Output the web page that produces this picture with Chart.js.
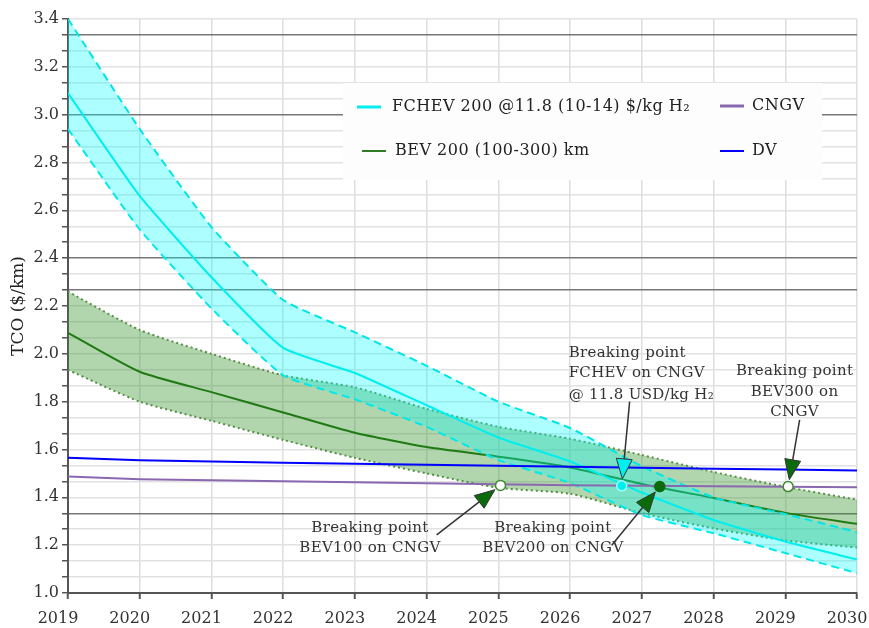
<!DOCTYPE html>
<html>
<head>
<meta charset="utf-8">
<script src="https://cdn.jsdelivr.net/npm/chart.js@4"></script>
<style>
  body { margin: 0; background: #fff; }
  #wrap { width: 869px; height: 628px; position: relative; }
</style>
</head>
<body>
<div id="wrap"><canvas id="tcoChart"></canvas></div>
<script>
// ---- data ----
const years = [2019, 2020, 2021, 2022, 2023, 2024, 2025, 2026, 2027, 2028, 2029, 2030];
const xTickLabels = ['2019', '2020', '2021', '2022', '2023', '2024', '2025', '2026', '2027', '2028', '2029', '2030'];
const yMajorTicks = [1.0, 1.2, 1.4, 1.6, 1.8, 2.0, 2.2, 2.4, 2.6, 2.8, 3.0, 3.2, 3.4];
const yTickLabels = ['1.0', '1.2', '1.4', '1.6', '1.8', '2.0', '2.2', '2.4', '2.6', '2.8', '3.0', '3.2', '3.4'];

const fchevMid  = [3.09, 2.66, 2.32, 2.025, 1.92, 1.785, 1.65, 1.55, 1.42, 1.305, 1.215, 1.14];
const fchevHigh = [3.40, 2.94, 2.53, 2.225, 2.09, 1.95, 1.80, 1.69, 1.53, 1.40, 1.33, 1.255];
const fchevLow  = [2.94, 2.52, 2.19, 1.91, 1.81, 1.695, 1.556, 1.46, 1.326, 1.25, 1.167, 1.083];

const bevMid  = [2.088, 1.925, 1.84, 1.755, 1.67, 1.61, 1.57, 1.525, 1.456, 1.397, 1.335, 1.289];
const bevHigh = [2.26, 2.10, 2.00, 1.91, 1.86, 1.77, 1.695, 1.645, 1.577, 1.506, 1.444, 1.39];
const bevLow  = [1.933, 1.80, 1.72, 1.64, 1.565, 1.50, 1.44, 1.415, 1.334, 1.27, 1.22, 1.19];

const dv   = [1.565, 1.555, 1.55, 1.545, 1.54, 1.536, 1.532, 1.528, 1.524, 1.52, 1.516, 1.512];
const cngv = [1.487, 1.476, 1.471, 1.467, 1.463, 1.459, 1.455, 1.451, 1.448, 1.446, 1.444, 1.442];

// breaking points: BEV100, FCHEV, BEV200, BEV300 (all on CNGV)
const breakX = [2025.03, 2026.72, 2027.25, 2029.04];
const breakY = [1.45, 1.448, 1.445, 1.445];

// grid lines drawn darker in the original
const darkGrid = [1.3333, 3.0, 2.4, 2.2667, 3.3333];

// annotation text + arrow tails, in data units
const notes = [
  { lines: ['Breaking point', 'BEV100 on CNGV'], x: 2023.21, y: [1.272, 1.188], align: 'center',
    tail: [2024.14, 1.243], pt: 0, head: '#0b6b0b' },
  { lines: ['Breaking point', 'BEV200 on CNGV'], x: 2025.76, y: [1.272, 1.188], align: 'center',
    tail: [2026.58, 1.20], pt: 2, head: '#0b6b0b' },
  { lines: ['Breaking point', 'FCHEV on CNGV', '@ 11.8 USD/kg H\u2082'], x: 2025.98, y: [2.004, 1.920, 1.828], align: 'left',
    tail: [2026.83, 1.80], pt: 1, head: '#00f0f0' },
  { lines: ['Breaking point', 'BEV300 on', 'CNGV'], x: 2029.13, y: [1.929, 1.841, 1.757], align: 'center',
    tail: [2029.2, 1.724], pt: 3, head: '#0b6b0b' }
];

const xy = arr => years.map((x, i) => ({ x: x, y: arr[i] }));

// y ticks: every 0.2 labelled, two minor ticks in between
const yTickValues = [];
yMajorTicks.forEach((v, i) => {
  yTickValues.push(v);
  if (i < yMajorTicks.length - 1) {
    yTickValues.push(v + 0.2 / 3, v + 0.4 / 3);
  }
});

const serif = 'DejaVu Serif';
Chart.defaults.font.family = serif;

// custom legend box, like the one in the original figure
const legendBox = {
  id: 'legendBox',
  afterDatasetsDraw(chart) {
    const c = chart.ctx;
    c.save();
    c.fillStyle = '#fdfdfd';
    c.fillRect(343, 83, 479, 97);
    c.font = '16px ' + serif;
    c.letterSpacing = '0.5px';
    c.fillStyle = '#222';
    c.textBaseline = 'middle';
    const items = [
      ['FCHEV 200 @11.8 (10-14) $/kg H\u2082', '#00eeee', 3, 357, 392, 107],
      ['CNGV', '#8a68b0', 3, 720, 752, 106],
      ['BEV 200 (100-300) km', '#2e7d22', 2, 362, 395, 151],
      ['DV', '#0000ff', 2, 720, 752, 151]
    ];
    items.forEach(([txt, col, w, lx, tx, y]) => {
      c.strokeStyle = col;
      c.lineWidth = w;
      c.beginPath();
      c.moveTo(lx, y);
      c.lineTo(lx + 24, y);
      c.stroke();
      c.fillText(txt, tx, y);
    });
    c.restore();
  }
};

// arrows and "Breaking point" notes
const breakNotes = {
  id: 'breakNotes',
  afterDatasetsDraw(chart) {
    const c = chart.ctx;
    const xs = chart.scales.x, ys = chart.scales.y;
    c.save();
    c.font = '15px ' + serif;
    c.letterSpacing = '0.3px';
    c.fillStyle = '#333';
    c.textBaseline = 'middle';
    notes.forEach(n => {
      c.textAlign = n.align;
      n.lines.forEach((t, i) => c.fillText(t, xs.getPixelForValue(n.x), ys.getPixelForValue(n.y[i])));

      const x0 = xs.getPixelForValue(n.tail[0]), y0 = ys.getPixelForValue(n.tail[1]);
      const x1 = xs.getPixelForValue(breakX[n.pt]), y1 = ys.getPixelForValue(breakY[n.pt]);
      const len = Math.hypot(x1 - x0, y1 - y0);
      const dx = (x1 - x0) / len, dy = (y1 - y0) / len;
      const tipX = x1 - dx * 7, tipY = y1 - dy * 7;
      const bx = tipX - dx * 20, by = tipY - dy * 20;

      c.strokeStyle = '#333';
      c.lineWidth = 1.5;
      c.beginPath();
      c.moveTo(x0, y0);
      c.lineTo(bx, by);
      c.stroke();

      c.fillStyle = n.head;
      c.lineWidth = 1;
      c.beginPath();
      c.moveTo(tipX, tipY);
      c.lineTo(bx - dy * 8, by + dx * 8);
      c.lineTo(bx + dy * 8, by - dx * 8);
      c.closePath();
      c.fill();
      c.stroke();
      c.fillStyle = '#333';
    });
    c.restore();
  }
};

const ctx = document.getElementById('tcoChart').getContext('2d');
const tcoChart = new Chart(ctx, {
    type: 'line',
    data: {
        datasets: [
            {
                label: 'Breaking points',
                data: breakX.map((x, i) => ({ x: x, y: breakY[i] })),
                showLine: false,
                pointRadius: 5,
                pointBorderWidth: 1.5,
                pointBackgroundColor: ['#ffffff', '#00eeee', '#0b6b0b', '#ffffff'],
                pointBorderColor: ['#3b8a30', '#9ff', '#0b6b0b', '#3b8a30']
            },
            {
                label: 'DV',
                data: xy(dv),
                borderColor: '#0000ff',
                borderWidth: 2,
                pointRadius: 0
            },
            {
                label: 'CNGV',
                data: xy(cngv),
                borderColor: '#8a68b0',
                borderWidth: 2,
                pointRadius: 0
            },
            {
                label: 'FCHEV 200 @11.8 $/kg H2',
                data: xy(fchevMid),
                borderColor: '#00eeee',
                borderWidth: 2,
                pointRadius: 0,
                tension: 0.15
            },
            {
                label: 'FCHEV 14 $/kg',
                data: xy(fchevHigh),
                borderColor: '#00e5e5',
                borderWidth: 2,
                borderDash: [8, 5],
                backgroundColor: 'rgba(0,255,255,0.32)',
                fill: { target: 5 },
                pointRadius: 0,
                tension: 0.15
            },
            {
                label: 'FCHEV 10 $/kg',
                data: xy(fchevLow),
                borderColor: '#00e5e5',
                borderWidth: 2,
                borderDash: [8, 5],
                pointRadius: 0,
                tension: 0.15
            },
            {
                label: 'BEV 200 km',
                data: xy(bevMid),
                borderColor: '#1f7a14',
                borderWidth: 2,
                pointRadius: 0,
                tension: 0.2
            },
            {
                label: 'BEV 100 km',
                data: xy(bevHigh),
                borderColor: '#5a8f4a',
                borderWidth: 2,
                borderDash: [2, 3],
                backgroundColor: 'rgba(60,150,50,0.4)',
                fill: { target: 8 },
                pointRadius: 0,
                tension: 0.2
            },
            {
                label: 'BEV 300 km',
                data: xy(bevLow),
                borderColor: '#5a8f4a',
                borderWidth: 2,
                borderDash: [2, 3],
                pointRadius: 0,
                tension: 0.2
            }
        ]
    },
    options: {
        responsive: true,
        maintainAspectRatio: false,
        animation: false,
        layout: { padding: { top: 19, right: 12, left: 0, bottom: 0 } },
        plugins: {
            legend: { display: false },
            tooltip: { enabled: false }
        },
        scales: {
            x: {
                type: 'linear',
                min: 2019,
                max: 2030,
                afterBuildTicks: s => { s.ticks = years.map(v => ({ value: v })); },
                afterFit: s => { s.height = 35; s.paddingLeft = 0; s.paddingRight = 0; },
                ticks: {
                    callback: v => xTickLabels[years.indexOf(v)],
                    font: { size: 16 },
                    color: '#333',
                    padding: 10,
                    labelOffset: -10,
                    maxRotation: 0,
                    autoSkip: false
                },
                grid: { color: '#dedede', lineWidth: 1.5, tickLength: 6, tickColor: '#555', tickWidth: 2 },
                border: { color: '#555', width: 2 }
            },
            y: {
                min: 1.0,
                max: 3.4,
                afterBuildTicks: s => { s.ticks = yTickValues.map(v => ({ value: v })); },
                afterFit: s => { s.width = 68; },
                ticks: {
                    callback: v => {
                        const i = yMajorTicks.findIndex(m => Math.abs(m - v) < 1e-6);
                        return i >= 0 ? yTickLabels[i] : '';
                    },
                    font: { size: 16 },
                    color: '#333',
                    padding: 3,
                    autoSkip: false
                },
                grid: {
                    color: c => darkGrid.some(d => Math.abs(d - c.tick.value) < 1e-3) ? '#777' : '#e2e2e2',
                    lineWidth: 1.5,
                    tickLength: 6,
                    tickColor: '#555',
                    tickWidth: 1.5
                },
                border: { color: '#555', width: 2 },
                title: {
                    display: true,
                    text: 'TCO ($/km)',
                    font: { size: 17 },
                    color: '#222',
                    padding: { top: 8, bottom: 0 }
                }
            }
        }
    },
    plugins: [legendBox, breakNotes]
});
</script>
</body>
</html>
